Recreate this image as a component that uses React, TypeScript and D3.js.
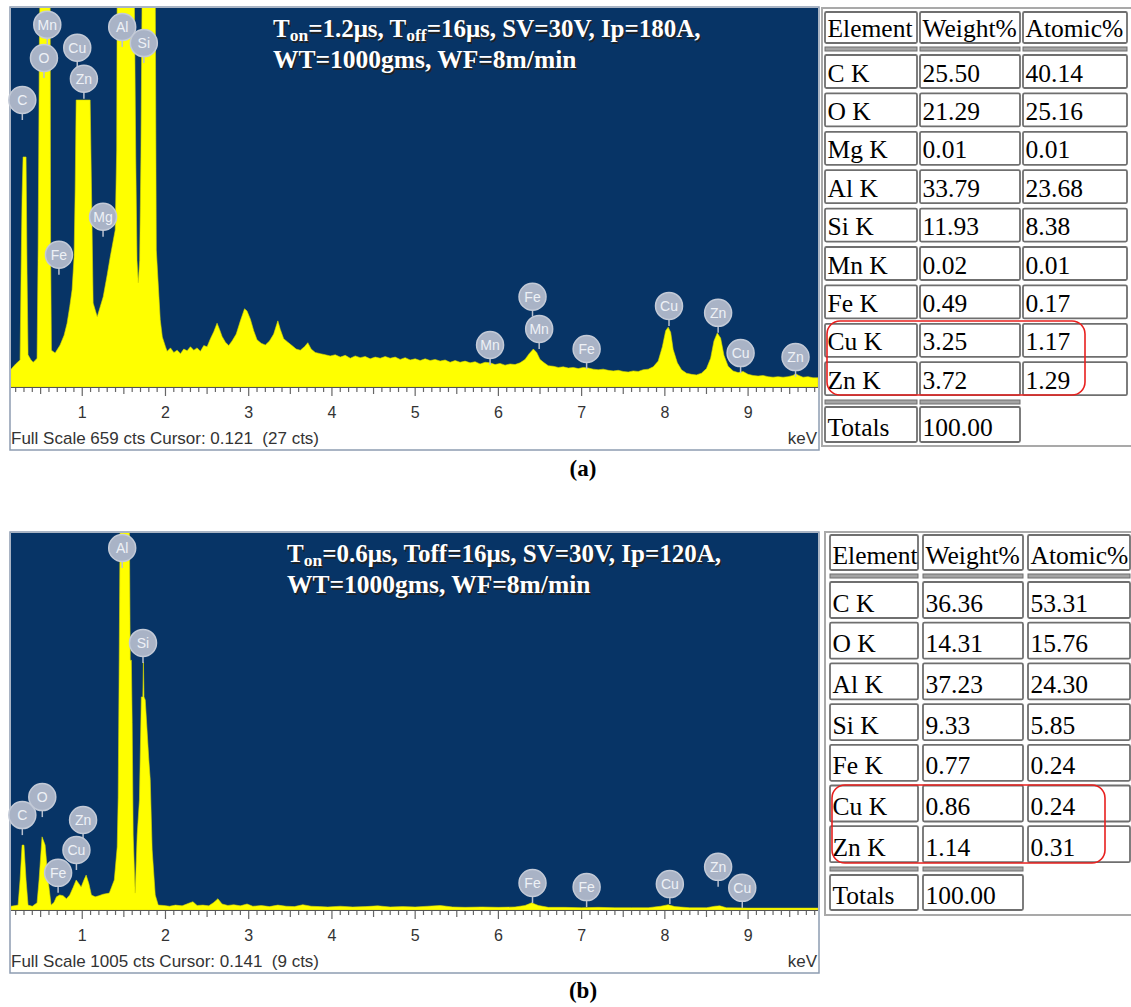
import React from "react";
import * as d3 from "d3";

type Pt = [number, number]; // [keV, counts]
type PeakLabel = [string, number, number]; // element, keV, label height (cts)
type Seg = { t: string; sub?: boolean };

// ---------- panel (a) ----------
const spectrumA: Pt[] = [
  [0.14, 30], [0.157, 33], [0.2, 40], [0.253, 47], [0.265, 198], [0.277, 330], [0.289, 400], [0.325, 400], [0.337, 198], [0.349, 56],
  [0.38, 48], [0.41, 43], [0.44, 47], [0.457, 50], [0.47, 238], [0.485, 600], [0.493, 700], [0.614, 700], [0.62, 238], [0.63, 64],
  [0.674, 59], [0.734, 73], [0.782, 90], [0.818, 111], [0.85, 140], [0.878, 169], [0.902, 226], [0.915, 343], [0.927, 499], [1.095, 499],
  [1.113, 325], [1.131, 146], [1.18, 122], [1.252, 157], [1.3, 195], [1.336, 226], [1.396, 273], [1.414, 412], [1.42, 700], [1.625, 700],
  [1.643, 400], [1.658, 220], [1.673, 181], [1.69, 220], [1.705, 400], [1.72, 700], [1.877, 700], [1.89, 238], [1.937, 117], [1.962, 87],
  [2.0, 70], [2.02, 62], [2.06, 68], [2.1, 60], [2.14, 64], [2.18, 58], [2.22, 66], [2.26, 63], [2.3, 70], [2.34, 64],
  [2.38, 68], [2.42, 62], [2.46, 72], [2.5, 70], [2.54, 84], [2.58, 96], [2.62, 111], [2.65, 100], [2.68, 88], [2.72, 78],
  [2.76, 72], [2.8, 80], [2.85, 92], [2.9, 115], [2.95, 136], [2.98, 132], [3.02, 118], [3.06, 98], [3.1, 82], [3.15, 76],
  [3.2, 73], [3.25, 80], [3.3, 92], [3.35, 115], [3.38, 100], [3.42, 84], [3.47, 78], [3.52, 72], [3.57, 66], [3.62, 64],
  [3.67, 70], [3.71, 77], [3.75, 66], [3.8, 60], [3.86, 58], [3.92, 56], [3.98, 54], [4.04, 56], [4.1, 52], [4.16, 55],
  [4.22, 50], [4.28, 54], [4.34, 51], [4.4, 53], [4.46, 49], [4.52, 52], [4.58, 50], [4.64, 53], [4.7, 50], [4.76, 52],
  [4.82, 48], [4.88, 51], [4.94, 47], [5.0, 49], [5.06, 46], [5.12, 49], [5.18, 46], [5.24, 48], [5.3, 45], [5.36, 47],
  [5.42, 43], [5.48, 46], [5.54, 43], [5.6, 45], [5.66, 42], [5.72, 44], [5.78, 40], [5.84, 43], [5.9, 42], [5.96, 39],
  [6.02, 41], [6.08, 38], [6.14, 40], [6.2, 39], [6.26, 42], [6.32, 48], [6.37, 58], [6.42, 66], [6.46, 60], [6.5, 48],
  [6.55, 42], [6.6, 37], [6.66, 36], [6.72, 34], [6.78, 35], [6.84, 33], [6.9, 34], [6.96, 32], [7.02, 34], [7.08, 33],
  [7.14, 31], [7.2, 30], [7.26, 31], [7.32, 29], [7.38, 28], [7.44, 29], [7.5, 27], [7.56, 26], [7.62, 28], [7.68, 27],
  [7.74, 30], [7.8, 31], [7.86, 35], [7.92, 45], [7.97, 70], [8.01, 98], [8.04, 104], [8.07, 95], [8.1, 65], [8.15, 42],
  [8.2, 30], [8.26, 24], [8.32, 22], [8.38, 21], [8.44, 24], [8.5, 32], [8.55, 50], [8.59, 80], [8.63, 94], [8.67, 85],
  [8.71, 55], [8.76, 36], [8.82, 28], [8.88, 25], [8.94, 27], [9.0, 22], [9.06, 20], [9.12, 19], [9.18, 20], [9.24, 18],
  [9.3, 17], [9.36, 18], [9.42, 17], [9.48, 18], [9.54, 20], [9.57, 23], [9.61, 20], [9.66, 17], [9.72, 18], [9.78, 16],
  [9.84, 16],
];

const peakLabelsA: PeakLabel[] = [
  ["C", 0.28, 499], ["Mn", 0.58, 630], ["O", 0.54, 572], ["Cu", 0.94, 590], ["Zn", 1.02, 536],
  ["Al", 1.48, 626], ["Si", 1.74, 598], ["Mg", 1.25, 296], ["Fe", 0.72, 230], ["Mn", 5.9, 73],
  ["Fe", 6.41, 157], ["Mn", 6.49, 101], ["Fe", 7.06, 66], ["Cu", 8.05, 141], ["Zn", 8.64, 129],
  ["Cu", 8.91, 59], ["Zn", 9.57, 52],
];

const titleA1: Seg[] = [{ t: "T" }, { t: "on", sub: true }, { t: "=1.2μs, T" }, { t: "off", sub: true }, { t: "=16μs, SV=30V, Ip=180A," }];
const titleA2 = "WT=1000gms, WF=8m/min";
const footerA = "Full Scale 659 cts Cursor: 0.121  (27 cts)";
const fullScaleA = 659;

const elementsA = ["C K", "O K", "Mg K", "Al K", "Si K", "Mn K", "Fe K", "Cu K", "Zn K"];
const weightA = ["25.50", "21.29", "0.01", "33.79", "11.93", "0.02", "0.49", "3.25", "3.72"];
const atomicA = ["40.14", "25.16", "0.01", "23.68", "8.38", "0.01", "0.17", "1.17", "1.29"];

// ---------- panel (b) ----------
const spectrumB: Pt[] = [
  [0.14, 10], [0.2, 12], [0.229, 13], [0.253, 80], [0.277, 173], [0.3, 173], [0.325, 80], [0.349, 13], [0.4, 10], [0.457, 19],
  [0.481, 80], [0.517, 195], [0.554, 173], [0.59, 80], [0.626, 13], [0.66, 20], [0.69, 35], [0.73, 40], [0.77, 38], [0.81, 30],
  [0.85, 40], [0.89, 60], [0.927, 80], [0.96, 70], [0.987, 61], [1.02, 80], [1.047, 93], [1.08, 70], [1.11, 40], [1.155, 35],
  [1.2, 38], [1.25, 42], [1.325, 45], [1.385, 80], [1.42, 168], [1.432, 300], [1.444, 666], [1.456, 1060], [1.565, 1060], [1.577, 666],
  [1.59, 666], [1.6, 500], [1.612, 200], [1.636, 45], [1.66, 200], [1.687, 293], [1.71, 568], [1.728, 568], [1.735, 661], [1.742, 568],
  [1.757, 560], [1.8, 400], [1.817, 347], [1.84, 160], [1.877, 40], [1.913, 13], [1.98, 12], [2.05, 10],
  [2.12, 13], [2.2, 11], [2.28, 18], [2.33, 22], [2.38, 12], [2.45, 13], [2.52, 11], [2.58, 20], [2.63, 30], [2.68, 16],
  [2.75, 12], [2.82, 14], [2.9, 11], [2.98, 16], [3.05, 10], [3.15, 12], [3.25, 9], [3.35, 13], [3.45, 10], [3.55, 9],
  [3.65, 14], [3.75, 10], [3.85, 9], [3.95, 8], [4.1, 10], [4.25, 8], [4.4, 9], [4.55, 11], [4.7, 8], [4.85, 9],
  [5.0, 8], [5.15, 10], [5.3, 12], [5.45, 8], [5.6, 7], [5.8, 8], [6.0, 7], [6.2, 8], [6.32, 12], [6.4, 19],
  [6.48, 12], [6.6, 7], [6.8, 7], [7.0, 6], [7.2, 7], [7.4, 6], [7.6, 6], [7.8, 6], [7.95, 10], [8.04, 14],
  [8.12, 9], [8.3, 6], [8.5, 6], [8.6, 10], [8.66, 11], [8.74, 6], [9.0, 5], [9.3, 5], [9.6, 5], [9.84, 5],
];

const peakLabelsB: PeakLabel[] = [
  ["Al", 1.48, 965], ["Si", 1.73, 712], ["C", 0.28, 253], ["O", 0.52, 301], ["Zn", 1.01, 240],
  ["Cu", 0.93, 160], ["Fe", 0.71, 99], ["Fe", 6.41, 72], ["Fe", 7.06, 61], ["Cu", 8.06, 69],
  ["Zn", 8.64, 115], ["Cu", 8.93, 59],
];

const titleB1: Seg[] = [{ t: "T" }, { t: "on", sub: true }, { t: "=0.6μs, Toff=16μs, SV=30V, Ip=120A," }];
const titleB2 = "WT=1000gms, WF=8m/min";
const footerB = "Full Scale 1005 cts Cursor: 0.141  (9 cts)";
const fullScaleB = 1005;

const elementsB = ["C K", "O K", "Al K", "Si K", "Fe K", "Cu K", "Zn K"];
const weightB = ["36.36", "14.31", "37.23", "9.33", "0.77", "0.86", "1.14"];
const atomicB = ["53.31", "15.76", "24.30", "5.85", "0.24", "0.24", "0.31"];

const tableHeader = ["Element", "Weight%", "Atomic%"];
const totalsRow = ["Totals", "100.00"];
const keVTicks = [1, 2, 3, 4, 5, 6, 7, 8, 9];

const BLUE = "#073466";
const YELLOW = "#ffff00";
const SERIF = "'Liberation Serif', 'Times New Roman', serif";
const SANS = "'Liberation Sans', Arial, sans-serif";

interface SpectrumProps {
  id: string;
  top: number;
  height: number;
  fullScale: number;
  data: Pt[];
  labels: PeakLabel[];
  title1: Seg[];
  title2: string;
  titleX: number;
  footer: string;
}

const Spectrum: React.FC<SpectrumProps> = ({ id, top, height, fullScale, data, labels, title1, title2, titleX, footer }) => {
  const left = 11;
  const right = 818;
  const bottom = top + height;
  const x = d3.scaleLinear().domain([0.144, 9.84]).range([left, right]);
  const y = d3.scaleLinear().domain([0, fullScale]).range([bottom, top]);
  const area = d3
    .area<Pt>()
    .x((d) => x(d[0]))
    .y0(bottom)
    .y1((d) => y(d[1]))
    .curve(d3.curveLinear);

  // 0.1 keV minor ticks
  const minor = d3.range(2, 99).map((i) => i / 10);

  const titleLine = (segs: Seg[], yy: number, fill: string, dx: number) => (
    <text x={titleX + dx} y={yy + dx} fontFamily={SERIF} fontWeight="bold" fontSize={25} fill={fill}>
      {segs.map((s, i) =>
        s.sub ? (
          <tspan key={i} fontSize={17.5} dy={4}>{s.t}</tspan>
        ) : (
          <tspan key={i} dy={i > 0 && segs[i - 1].sub ? -4 : 0}>{s.t}</tspan>
        )
      )}
    </text>
  );

  return (
    <g>
      <defs>
        <clipPath id={`clip-${id}`}>
          <rect x={left} y={top} width={right - left} height={height} />
        </clipPath>
      </defs>
      {/* frame + white axis area */}
      <rect x={10} y={top - 1} width={809} height={height + 64} fill="#fff" stroke="#8d9cb1" strokeWidth={1.5} />
      <rect x={left} y={top} width={right - left} height={height} fill={BLUE} />
      <g clipPath={`url(#clip-${id})`}>
        <path d={area(data) || ""} fill={YELLOW} stroke="#d8d800" strokeWidth={0.6} />
      </g>

      {/* title */}
      {titleLine(title1, top + 29, "#222", 1.5)}
      {titleLine(title1, top + 29, "#ffffff", 0)}
      <text x={titleX + 1.5} y={top + 61.5} fontFamily={SERIF} fontWeight="bold" fontSize={25.5} fill="#222">{title2}</text>
      <text x={titleX} y={top + 60} fontFamily={SERIF} fontWeight="bold" fontSize={25.5} fill="#fff">{title2}</text>

      {/* peak markers */}
      {labels.map(([el, kev, cts], i) => {
        const cx = x(kev);
        const cy = y(cts);
        return (
          <g key={i}>
            <line x1={cx} x2={cx} y1={cy + 12} y2={cy + 20} stroke="#b8c0cf" strokeWidth={1.5} />
            <circle cx={cx} cy={cy} r={13.5} fill="#a9b3c6" stroke="#c3cad7" strokeWidth={1.5} />
            <text x={cx} y={cy + 5} textAnchor="middle" fontFamily={SANS} fontSize={14} fill="#eef1f6">{el}</text>
          </g>
        );
      })}

      {/* axis */}
      <line x1={left} x2={right} y1={bottom + 0.5} y2={bottom + 0.5} stroke="#555" strokeWidth={1} />
      {minor.map((v, i) => {
        const major = Math.abs(v - Math.round(v)) < 1e-6;
        const half = Math.abs(v * 2 - Math.round(v * 2)) < 1e-6;
        const len = major ? 8 : half ? 6 : 4;
        return <line key={i} x1={x(v)} x2={x(v)} y1={bottom + 1} y2={bottom + 1 + len} stroke="#666" strokeWidth={1.2} />;
      })}
      {keVTicks.map((v) => (
        <text key={v} x={x(v)} y={bottom + 31} textAnchor="middle" fontFamily={SANS} fontSize={16} fill="#333">{v}</text>
      ))}
      <text x={11} y={bottom + 57} fontFamily={SANS} fontSize={17} fill="#333" style={{ whiteSpace: "pre" }}>{footer}</text>
      <text x={right - 1} y={bottom + 57} textAnchor="end" fontFamily={SANS} fontSize={17} fill="#333">keV</text>
    </g>
  );
};

interface TableProps {
  cols: [number, number][];
  frame: [number, number, number];
  header: [number, number];
  sep: number;
  rowTop: number;
  pitch: number;
  rowH: number;
  totalsSep: number;
  totals: [number, number];
  elements: string[];
  weight: string[];
  atomic: string[];
  red: [number, number, number, number];
}

const Cell: React.FC<{ x: number; y: number; w: number; h: number; text?: string }> = ({ x, y, w, h, text }) => (
  <g>
    <rect x={x} y={y} width={w} height={h} fill="#fff" stroke="#6f6f6f" strokeWidth={1.8} rx={1.5} />
    {text !== undefined && (
      <text x={x + 2.5} y={y + h - 6.5} fontFamily={SERIF} fontSize={25.5} fill="#000">{text}</text>
    )}
  </g>
);

const EdsTable: React.FC<TableProps> = ({ cols, frame, header, sep, rowTop, pitch, rowH, totalsSep, totals, elements, weight, atomic, red }) => {
  const [fx, fy, fb] = frame;
  return (
    <g>
      <rect x={fx} y={fy} width={1140 - fx} height={fb - fy} fill="#fff" stroke="#a9a9a9" strokeWidth={2} />
      {cols.map(([cx, cw], j) => (
        <Cell key={`h${j}`} x={cx} y={header[0]} w={cw} h={header[1]} text={tableHeader[j]} />
      ))}
      {cols.map(([cx, cw], j) => (
        <rect key={`s${j}`} x={cx} y={sep} width={cw} height={4} fill="#a4a4a4" stroke="#6f6f6f" strokeWidth={1} />
      ))}
      {elements.map((el, i) => {
        const yy = rowTop + i * pitch;
        const vals = [el, weight[i], atomic[i]];
        return cols.map(([cx, cw], j) => <Cell key={`r${i}-${j}`} x={cx} y={yy} w={cw} h={rowH} text={vals[j]} />);
      })}
      {cols.slice(0, 2).map(([cx, cw], j) => (
        <rect key={`t${j}`} x={cx} y={totalsSep} width={cw} height={4} fill="#a4a4a4" stroke="#6f6f6f" strokeWidth={1} />
      ))}
      {cols.slice(0, 2).map(([cx, cw], j) => (
        <Cell key={`tt${j}`} x={cx} y={totals[0]} w={cw} h={totals[1]} text={totalsRow[j]} />
      ))}
      <rect x={red[0]} y={red[1]} width={red[2]} height={red[3]} rx={13} fill="none" stroke="#e8201e" strokeWidth={1.6} />
    </g>
  );
};

export default function App() {
  return (
    <svg width={1131} height={1007} style={{ position: "absolute", left: 0, top: 0, background: "#fff" }}>
      <rect x={0} y={0} width={1131} height={1007} fill="#fff" />
      <Spectrum
        id="a" top={8} height={379} fullScale={fullScaleA} data={spectrumA} labels={peakLabelsA}
        title1={titleA1} title2={titleA2} titleX={273} footer={footerA}
      />
      <EdsTable
        cols={[[825, 92], [920, 100], [1023, 104]]}
        frame={[822, 8, 446]}
        header={[12, 31]} sep={47} rowTop={55} pitch={38.4} rowH={33}
        totalsSep={400} totals={[407, 35]}
        elements={elementsA} weight={weightA} atomic={atomicA}
        red={[827, 321, 258, 74]}
      />
      <text x={583} y={476} textAnchor="middle" fontFamily={SERIF} fontWeight="bold" fontSize={23}>(a)</text>

      <Spectrum
        id="b" top={533} height={377} fullScale={fullScaleB} data={spectrumB} labels={peakLabelsB}
        title1={titleB1} title2={titleB2} titleX={287} footer={footerB}
      />
      <EdsTable
        cols={[[830, 88], [923, 100], [1028, 102]]}
        frame={[825, 532, 915]}
        header={[535, 35]} sep={574} rowTop={582} pitch={40.7} rowH={36}
        totalsSep={867} totals={[875, 35]}
        elements={elementsB} weight={weightB} atomic={atomicB}
        red={[832, 785, 273, 78]}
      />
      <text x={583} y={998} textAnchor="middle" fontFamily={SERIF} fontWeight="bold" fontSize={23}>(b)</text>
    </svg>
  );
}
